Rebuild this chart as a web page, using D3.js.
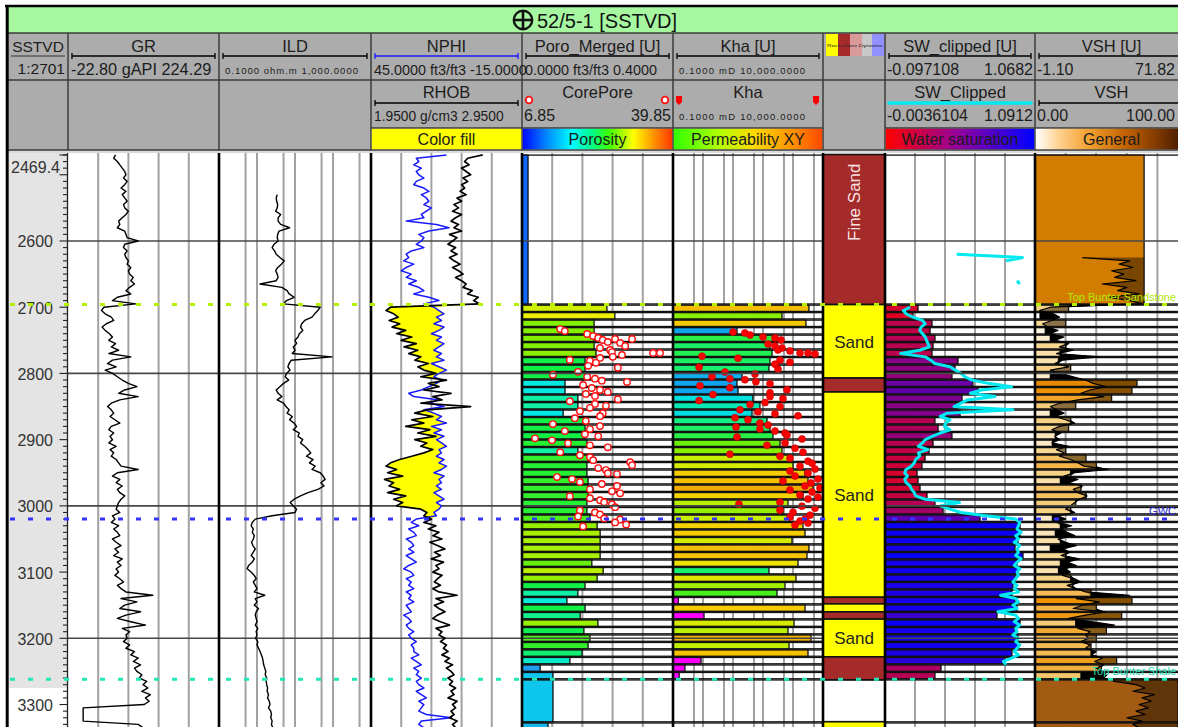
<!DOCTYPE html>
<html>
<head>
<meta charset="utf-8">
<script src="https://cdn.jsdelivr.net/npm/d3@7"></script>
<style>
  html, body { margin: 0; padding: 0; background: #fff; overflow: hidden; }
  svg { display: block; font-family: "Liberation Sans", Arial, sans-serif; }
</style>
</head>
<body>
<script>
// ---------------- Well 52/5-1 : log data (depth SSTVD, m) ----------------
const LOG_START = 2470;   // first sample depth of the continuous logs
const LOG_STEP = 5;       // sample spacing, m

// Gamma ray, gAPI
const grValues = [
  55, 52, 58, 62, 66, 70, 72, 68, 74, 70,
  64, 72, 66, 70, 74, 68, 70, 76, 72, 66,
  60, 62, 58, 70, 72, 74, 92, 70, 68, 74,
  70, 72, 76, 74, 80, 76, 78, 84, 80, 86,
  78, 72, 80, 58, 50, 88, 36, 32, 38, 48,
  52, 40, 33, 38, 45, 50, 44, 55, 48, 60,
  44, 80, 50, 42, 56, 38, 50, 58, 66, 76,
  90, 70, 60, 92, 62, 48, 42, 48, 52, 46,
  54, 62, 48, 44, 52, 46, 50, 44, 56, 46,
  52, 48, 56, 60, 64, 92, 58, 50, 62, 56,
  66, 58, 62, 70, 64, 60, 58, 56, 62, 50,
  54, 48, 60, 52, 58, 62, 50, 56, 64, 54,
  60, 52, 66, 58, 64, 56, 60, 54, 62, 68,
  58, 64, 72, 116, 64, 90, 70, 62, 96, 72,
  58, 80, 104, 66, 78, 72, 74, 68, 78, 72,
  86, 80, 92, 84, 96, 86, 90, 98, 94, 106,
  100, 108, 98, 112, 104, 110, 102, 2, 2, 2,
  2, 2, 92, 100
];

// Deep induction resistivity, ohm.m
const ildValues = [
  null, null, null, null, null, null, null, null, null, null,
  null, null, 3.4, 3.2, 3.3, 3.5, 3.4, 3.1, 4.2, 3.6,
  3.6, 4.2, 7.2, 3.8, 3.5, 3.4, 3.6, 2.8, 2.5, 2.9,
  3.2, 4.0, 5.2, 4.4, 3.5, 3.1, 3.4, 3.6, 3.2, 1.2,
  4.5, 6.2, 7.0, 9.5, 6.0, 5.0, 46, 40, 33, 28,
  18, 15, 14, 16, 13, 12, 10, 11, 9, 10,
  8.5, 94, 8, 7.0, 6.5, 7.4, 6.0, 5.5, 6.8, 5.0,
  4.0, 3.2, 3.6, 4.5, 3.4, 5.0, 5.8, 7.0, 6.2, 8.5,
  7.2, 9.5, 11, 9.0, 13, 12, 16, 14, 18, 22,
  26, 20, 30, 24, 34, 28, 46, 55, 62, 48,
  58, 40, 22, 14, 9.5, 7.5, 9.0, 11, 10, 2.5,
  0.9, 0.75, 0.7, 0.8, 0.75, 0.85, 0.8, 0.72, 0.78, 0.9,
  0.8, 0.7, 0.85, 0.75, 0.6, 0.55, 0.7, 0.85, 0.95, 0.8,
  0.9, 1.0, 0.85, 1.6, 0.9, 1.0, 0.85, 1.1, 0.95, 0.9,
  0.95, 1.0, 0.9, 1.05, 0.95, 1.0, 0.92, 1.05, 1.0, 1.1,
  1.2, 1.3, 1.4, 1.45, 1.5, 1.6, 1.7, 1.65, 1.8, 1.75,
  1.8, 1.9, 1.85, 2.0, 1.9, 2.1, 2.2, 2.0, 2.3, 2.4,
  2.3, 2.5, 2.4, 2.6
];

// Neutron porosity, p.u.
const nphiValues = [
  15, 27, 26, 28, 25, 27, 26, 24, 27, 28,
  24, 22, 25, 23, 22, 24, 21, 23, 25, 24,
  31, 19, 14, 22, 26, 24, 25, 27, 24, 29,
  31, 30, 32, 28, 31, 33, 29, 31, 27, 30,
  26, 24, 28, 22, 18, 24, 20, 18, 16, 19,
  17, 20, 16, 18, 21, 17, 19, 16, 18, 20,
  17, 19, 16, 21, 18, 15, 18, 20, 17, 19,
  22, 25, 30, 28, 18, 22, 16, 24, 20, 17,
  19, 15, 21, 17, 20, 16, 19, 17, 15, 18,
  17, 19, 16, 18, 15, 17, 20, 16, 18, 17,
  19, 17, 20, 18, 16, 19, 17, 18, 20, 19,
  27, 29, 26, 30, 28, 27, 31, 29, 28, 30,
  28, 31, 29, 27, 30, 32, 29, 28, 31, 29,
  30, 28, 31, 29, 30, 28, 31, 30, 29, 32,
  30, 29, 31, 30, 28, 30, 29, 27, 29, 28,
  28, 26, 29, 27, 25, 28, 26, 27, 25, 27,
  26, 24, 27, 25, 23, 26, 24, 25, 26, 23,
  13, 25, 26, 24
];

// Bulk density, g/cm3
const rhobValues = [
  2.69, 2.59, 2.57, 2.60, 2.55, 2.58, 2.61, 2.56, 2.59, 2.55,
  2.57, 2.54, 2.58, 2.52, 2.55, 2.50, 2.53, 2.49, 2.55, 2.51,
  2.48, 2.53, 2.50, 2.55, 2.47, 2.52, 2.49, 2.46, 2.51, 2.48,
  2.52, 2.47, 2.50, 2.54, 2.49, 2.53, 2.56, 2.51, 2.55, 2.58,
  2.56, 2.62, 2.59, 2.66, 2.63, 2.67, 2.08, 2.05, 2.10, 2.13,
  2.07, 2.14, 2.09, 2.18, 2.12, 2.22, 2.15, 2.25, 2.17, 2.26,
  2.20, 2.28, 2.24, 2.33, 2.26, 2.30, 2.38, 2.28, 2.45, 2.33,
  2.40, 2.30, 2.48, 2.36, 2.42, 2.28, 2.61, 2.32, 2.24, 2.36,
  2.22, 2.30, 2.18, 2.34, 2.26, 2.38, 2.24, 2.32, 2.28, 2.36,
  2.30, 2.22, 2.14, 2.08, 2.05, 2.12, 2.06, 2.16, 2.04, 2.10,
  2.07, 2.14, 2.06, 2.18, 2.10, 2.16, 2.12, 2.28, 2.32, 2.30,
  2.35, 2.30, 2.38, 2.33, 2.40, 2.36, 2.42, 2.34, 2.39, 2.44,
  2.37, 2.41, 2.35, 2.43, 2.38, 2.40, 2.36, 2.42, 2.39, 2.37,
  2.41, 2.36, 2.40, 2.52, 2.38, 2.43, 2.37, 2.40, 2.44, 2.39,
  2.36, 2.41, 2.47, 2.38, 2.42, 2.40, 2.44, 2.41, 2.45, 2.43,
  2.46, 2.42, 2.47, 2.44, 2.49, 2.45, 2.48, 2.50, 2.46, 2.49,
  2.47, 2.51, 2.48, 2.50, 2.46, 2.52, 2.49, 2.51, 2.48, 2.50,
  2.47, 2.52, 2.49, 2.51
];

// Clipped water saturation curve, v/v
const swCurveValues = [
  null, null, null, null, null, null, null, null, null, null,
  null, null, null, null, null, null, null, null, null, null,
  null, null, null, null, null, null, null, null, null, null,
  0.52, 1.0, 0.88, null, null, null, null, null, 0.96, 0.98,
  null, null, null, null, null, null, 0.18, 0.13, 0.15, 0.20,
  0.27, 0.29, 0.26, 0.25, 0.27, 0.29, 0.30, 0.31, 0.32, 0.25,
  0.11, 0.29, 0.33, 0.36, 0.47, 0.51, 0.55, 0.58, 0.63, 0.75,
  0.92, 0.70, 0.62, 0.80, 0.60, 0.55, 0.50, 0.93, 0.45, 0.40,
  0.47, 0.44, 0.43, 0.47, 0.40, 0.34, 0.29, 0.27, 0.24, 0.31,
  0.24, 0.25, 0.22, 0.21, 0.19, 0.15, 0.14, 0.16, 0.14, 0.15,
  0.18, 0.19, 0.21, 0.22, 0.29, 0.54, 0.40, 0.47, 0.55, 0.73,
  0.95, 0.98, 0.97, 0.96, 0.99, 0.95, 0.97, 0.94, 0.98, 0.96,
  0.97, 0.95, 0.99, 0.96, 0.94, 0.98, 0.96, 0.97, 0.95, 0.93,
  0.96, 0.94, 0.97, 0.84, 0.95, 0.97, 0.93, 0.96, 0.82, 0.95,
  0.97, 0.94, 0.98, 0.95, 0.96, 0.93, 0.97, 0.95, 0.98, 0.96,
  0.94, 0.97, 0.92, 0.86, 0.88, null, null, null, null, null,
  null, null, null, null, null, null, null, null, null, null,
  null, null, null, null
];

// Shale volume curve, %
const vshCurveValues = [
  null, null, null, null, null, null, null, null, null, null,
  null, null, null, null, null, null, null, null, null, null,
  null, null, null, null, null, null, null, null, null, null,
  null, 31, 62, 55, 64, 50, 58, 52, 66, 44,
  60, 54, 68, 48, 62, 70, 10, 3, 12, 16,
  11, 5, 8, 15, 10, 19, 13, 22, 16, 25,
  14, 42, 18, 13, 22, 10, 17, 25, 33, 38,
  46, 36, 30, 45, 28, 16, 10, 14, 19, 13,
  20, 26, 16, 11, 17, 13, 16, 11, 22, 14,
  19, 16, 23, 28, 32, 48, 26, 19, 28, 22,
  31, 25, 28, 34, 29, 26, 23, 20, 26, 15,
  20, 14, 24, 17, 21, 26, 15, 20, 27, 18,
  23, 17, 29, 21, 27, 20, 23, 18, 26, 30,
  21, 27, 33, 62, 27, 42, 31, 25, 46, 33,
  22, 38, 52, 28, 36, 33, 35, 30, 36, 33,
  40, 37, 44, 39, 45, 40, 44, 47, 45, 52,
  66, 72, 64, 78, 70, 76, 68, 74, 66, 72,
  60, 70, 64, 68
];

// ---------------- zonal (interval) results ----------------
const zoneBounds = [
  2469.4,
  2696.0, 2707.3, 2718.6, 2730.0, 2741.3, 2752.6, 2763.9, 2775.2, 2786.6, 2797.9,
  2809.2, 2820.5, 2831.8, 2843.2, 2854.5, 2865.8, 2877.1, 2888.4, 2899.8, 2911.1,
  2922.4, 2933.7, 2945.0, 2956.4, 2967.7, 2979.0, 2990.3, 3001.6, 3013.0, 3024.3,
  3035.6, 3046.9, 3058.2, 3069.6, 3080.9, 3092.2, 3103.5, 3114.8, 3126.2, 3137.5,
  3148.8, 3160.1, 3171.4, 3182.8, 3194.1, 3205.4, 3216.7, 3228.0, 3239.4, 3250.7,
  3262.0, 3327.0, 3360.0
];

// Poro_Merged [U], ft3/ft3
const poroZone = [
  0.016,
  0.225, 0.246, 0.191, 0.191, 0.191, 0.191, 0.196, 0.167, 0.167, 0.167,
  0.114, 0.114, 0.148, 0.148, 0.109, 0.167, 0.167, 0.167, 0.172, 0.148,
  0.175, 0.172, 0.172, 0.175, 0.175, 0.175, 0.172, 0.172, 0.180, 0.199,
  0.207, 0.207, 0.207, 0.207, 0.185, 0.215, 0.199, 0.167, 0.148, 0.119,
  0.167, 0.154, 0.201, 0.164, 0.180, 0.175, 0.159, 0.127, 0.048, 0.082,
  0.082, 0.069
];

// Kha [U], mD
const khaZone = [
  null,
  3400, 430, 2700, 13.6, 215, 171, 200, 171, 158, 20,
  13.6, 14.7, 46, 79, 43, 136, 171, 215, 369, 430,
  794, 1000, 2512, 3162, 4640, 2154, 681, 464, 794, 2154,
  2512, 926, 3400, 2930, 1468, 158, 1259, 541, 293, 0.15,
  2512, 1.08, 1080, 681, 3981, 736, 3162, 0.86, 0.25, 0.16,
  null, null
];

// SW_clipped [U], v/v
const swZone = [
  null,
  0.159, 0.12, 0.268, 0.253, 0.291, 0.276, 0.268, 0.47, 0.447, 0.423,
  0.586, 0.625, 0.501, 0.462, 0.486, 0.291, 0.315, 0.423, 0.276, 0.245,
  0.214, 0.19, 0.152, 0.159, 0.175, 0.229, 0.291, 0.354, 0.641, 0.952,
  0.952, 0.936, 0.913, 0.975, 0.928, 0.936, 0.913, 0.897, 0.889, 0.913,
  0.928, 0.773, 0.952, 0.913, 0.936, 0.936, 0.889, 0.835, 0.338, 0.291,
  null, null
];

// VSH [U], %
const vshZone = [
  50.9,
  14.9, 1.3, 13.5, 3.8, 6.2, 13.5, 11.0, 10.1, 15.9, 6.2,
  47.5, 45.1, 35.4, 18.3, 6.2, 15.9, 14.9, 8.6, 7.2, 13.5,
  23.2, 28.1, 15.9, 11.0, 20.8, 23.2, 18.3, 15.9, 7.2, 11.0,
  8.6, 11.0, 6.2, 13.5, 11.0, 10.1, 15.9, 16.9, 25.6, 45.1,
  28.1, 40.2, 18.3, 32.9, 28.1, 25.6, 25.6, 37.8, 30.5, 20.8,
  67.0, 67.0
];

// ---------------- core measurements [depth, value] ----------------
const corePore = [
  [2733, 15.2], [2736, 16.2], [2740.5, 21.1], [2743.5, 22.4], [2746.5, 23.5],
  [2749.5, 24.5], [2752.5, 25.6], [2748, 27.2], [2754, 28.3], [2758.6, 29.4],
  [2748, 30.9], [2769, 35.5], [2769, 37.0], [2761.6, 23.9], [2764.6, 26.1],
  [2767.7, 26.5], [2772, 28.7], [2775, 26.7], [2776.6, 23.9], [2779.6, 17.3],
  [2781, 21.7], [2784, 23.0], [2788.6, 21.3], [2791.6, 27.8], [2797.6, 19.1],
  [2802, 13.6], [2805, 21.1], [2808, 22.8], [2811, 24.3], [2813, 29.8],
  [2817.5, 20.2], [2822, 22.1], [2825, 23.9], [2828, 25.6], [2831, 20.8],
  [2834, 22.8], [2839, 27.8], [2842, 17.3], [2846, 22.8], [2849, 25.2],
  [2852, 21.7], [2857, 19.5], [2860, 24.5], [2864.6, 23.9], [2867.6, 18.4],
  [2872, 20.8], [2876.5, 13.6], [2879.5, 23.9], [2884, 21.7], [2887, 16.2],
  [2892, 20.6], [2895, 23.5], [2898, 9.7], [2901, 13.4], [2905.6, 16.9],
  [2908.6, 21.7], [2911.6, 25.6], [2919, 15.2], [2923.6, 19.5], [2926.6, 21.7],
  [2931, 22.4], [2934, 30.5], [2938.6, 30.9], [2943, 23.5], [2946, 25.2],
  [2950.6, 25.6], [2952, 27.6], [2956.6, 14.5], [2959.6, 17.8], [2964, 19.5],
  [2967, 24.3], [2970, 27.6], [2975, 21.7], [2978, 26.5], [2981, 28.3],
  [2985.5, 17.3], [2988.5, 21.7], [2991.5, 23.9], [2994.5, 24.8], [2997.5, 26.5],
  [3002, 27.2], [3007, 19.5], [3010, 22.8], [3013, 23.9], [3016, 19.1],
  [3019, 24.8], [3020.5, 28.3], [3025, 27.2], [3028, 29.6], [3031, 20.2]
];

const coreKha = [
  [2737.5, 10], [2739, 25], [2742, 37], [2745, 100], [2746.5, 251], [2749.5, 398],
  [2755.5, 147], [2758.6, 251], [2761.6, 430], [2764.6, 316], [2766, 794], [2769, 1711],
  [2770.5, 5412], [2769, 3162], [2774, 0.93], [2777, 14.7], [2780, 369], [2783, 794],
  [2786, 251], [2790.5, 0.74], [2793.5, 316], [2798, 5.4], [2801, 54], [2805, 2.0],
  [2808, 7.9], [2809.5, 25], [2812.5, 58], [2815.5, 171], [2818.5, 0.79], [2821.6, 7.9],
  [2824.6, 631], [2829, 171], [2832, 2.15], [2835, 171], [2838, 464], [2841, 0.74],
  [2844, 117], [2847, 37], [2850, 369], [2855, 17.1], [2858, 68], [2861, 251],
  [2864, 1468], [2867, 11.7], [2870, 31.6], [2875, 79], [2878, 147], [2881, 12.6],
  [2884, 79], [2887, 251], [2890, 541], [2893, 631], [2896, 13.6], [2899, 1995],
  [2905, 541], [2908.6, 136], [2913, 1166], [2919, 2154], [2922, 7.9], [2925, 369],
  [2928, 794], [2932.5, 3162], [2935.5, 4299], [2940, 1711], [2944.5, 5412], [2947.5, 794],
  [2950.6, 3162], [2955, 1166], [2959.6, 6813], [2962.5, 464], [2965.5, 3981], [2970, 2512],
  [2973, 7943], [2976, 794], [2979, 4299], [2983.6, 1711], [2986.6, 6813], [2989.6, 3162],
  [2994.4, 369], [2997.5, 15.8], [3000.5, 1995], [3003.5, 5412], [3006.5, 369], [3009.5, 1000],
  [3014, 3687], [3017, 794], [3020, 2512], [3023, 1711], [3026, 3162], [3029, 1166]
];

// ---------------- lithology column ----------------
const lithTops  = [2469.4, 2696, 2807, 2828, 3138, 3148, 3160, 3171, 3228, 3263, 3326];
const lithBases = [2696, 2807, 2828, 3138, 3148, 3160, 3171, 3228, 3263, 3326, 3360];
const lithNames = ["Fine Sand", "Sand", "Fine Sand", "Sand", "Fine Sand", "Sand",
                   "Fine Sand", "Sand", "Fine Sand", "", "Sand"];

// ---------------- formation tops / contacts ----------------
const topNames  = ["Top Bunter Sandstone", "GWC", "Top Bunter Shale"];
const topDepths = [2696, 3020, 3262];

// ---------------- depth scale labels ----------------
const depthTopLabel = "2469.4";
const depthLabels = [2600, 2700, 2800, 2900, 3000, 3100, 3200, 3300];

// ======================= drawing =======================
const W = 1178, H = 727;
const DATA_TOP = 153, DATA_BOTTOM = 727;

const svg = d3.select("body").append("svg").attr("width", W).attr("height", H);
const defs = svg.append("defs");

const y = d3.scaleLinear().domain([2469.4, 3335]).range([154.5, 727.7]);

const TR = {
  depth: [9, 68], gr: [68, 219], ild: [219, 371], nphi: [371, 522],
  poro: [522, 673], kha: [673, 823], lith: [823, 885], sw: [885, 1035], vsh: [1035, 1188]
};

const grX   = d3.scaleLinear().domain([-22.80, 224.29]).range(TR.gr);
const ildX  = d3.scaleLog().domain([0.1, 1000]).range(TR.ild);
const nphiX = d3.scaleLinear().domain([45, -15]).range(TR.nphi);
const rhobX = d3.scaleLinear().domain([1.95, 2.95]).range(TR.nphi);
const poroX = d3.scaleLinear().domain([0, 0.4]).range(TR.poro);
const coreX = d3.scaleLinear().domain([6.85, 39.85]).range(TR.poro);
const khaX  = d3.scaleLog().domain([0.1, 10000]).range(TR.kha);
const swX   = d3.scaleLinear().domain([-0.097108, 1.0682]).range(TR.sw);
const swcX  = d3.scaleLinear().domain([-0.0036104, 1.0912]).range(TR.sw);
const vshUX = d3.scaleLinear().domain([-1.10, 71.82]).range(TR.vsh);
const vshX  = d3.scaleLinear().domain([0, 100]).range(TR.vsh);

// colour maps
const poroColor = d3.scaleLinear()
  .domain([0, 0.05, 0.11, 0.15, 0.168, 0.19, 0.225, 0.25, 0.3, 0.4])
  .range(["#0a4cff", "#20a0f0", "#00e8e8", "#10f0a0", "#10f040", "#80f000", "#d0f000", "#f0f000", "#ffa000", "#ff2000"])
  .clamp(true);
const khaLogColor = d3.scaleLinear()
  .domain([-1, 0.1, 0.6, 1.1, 1.4, 1.65, 2.1, 2.3, 2.5, 2.65, 2.9, 3.2, 3.45, 3.7])
  .range(["#ff00ff", "#ff00ff", "#2070ff", "#10a0f0", "#10b8f0", "#00e0e0", "#10f090", "#20f050",
          "#50f010", "#90f000", "#c8f000", "#f0e000", "#f8c800", "#f0a800"])
  .clamp(true);
const khaColor = v => khaLogColor(Math.log10(v));
const swColor = d3.scaleLinear().domain([0, 0.5, 1]).range(["#ff0000", "#800090", "#0000ff"]).clamp(true);
const vshColor = d3.scaleLinear().domain([0, 15, 28, 45, 52, 67, 72])
  .range(["#ffffff", "#f8d488", "#f4b448", "#f09000", "#cc7a00", "#a35a12", "#6a3000"]).clamp(true);
const lithColor = { "Fine Sand": "#a52a2a", "Sand": "#ffff00" };
const topColors = ["#b4f000", "#3434ff", "#22e6b4"];
const topLabelColors = ["#b0ea00", "#2a2ad8", "#20dcb0"];

// helpers
const samples = vals => vals.map((v, i) => ({ d: LOG_START + i * LOG_STEP, v }));
const zones = d3.range(zoneBounds.length - 1).map(i => ({ top: zoneBounds[i], bot: zoneBounds[i + 1] }));
function zoneAt(d) {
  for (let i = 0; i < zones.length; i++) if (d >= zones[i].top && d < zones[i].bot) return i;
  return -1;
}
function curveAt(vals, d) {
  const f = (d - LOG_START) / LOG_STEP, i = Math.floor(f);
  if (i < 0 || i + 1 >= vals.length) return null;
  const a = vals[i], b = vals[i + 1];
  if (a == null || b == null) return null;
  return a + (b - a) * (f - i);
}
function clipFor(name, x0, x1) {
  defs.append("clipPath").attr("id", "clip-" + name)
    .append("rect").attr("x", x0).attr("y", DATA_TOP).attr("width", x1 - x0).attr("height", DATA_BOTTOM - DATA_TOP);
  return "url(#clip-" + name + ")";
}

const data = svg.append("g");

// depth track background
data.append("rect").attr("x", TR.depth[0]).attr("y", DATA_TOP)
  .attr("width", TR.depth[1] - TR.depth[0]).attr("height", y(3275) - DATA_TOP).attr("fill", "#e4e4e4");

// ---- grids ----
const gridG = data.append("g");
function linearGrid(tr) {
  const [x0, x1] = tr;
  for (let i = 1; i < 5; i++) {
    const x = x0 + i * (x1 - x0) / 5;
    gridG.append("line").attr("x1", x).attr("x2", x).attr("y1", DATA_TOP).attr("y2", DATA_BOTTOM)
      .attr("stroke", "#a2a2a2").attr("stroke-width", 2);
  }
}
function logGrid(scale, lo, hi) {
  for (let d = lo; d < hi; d *= 10) {
    [d * 5, d * 10].forEach(v => {
      if (v >= hi * 0.999) return;
      const x = scale(v);
      gridG.append("line").attr("x1", x).attr("x2", x).attr("y1", DATA_TOP).attr("y2", DATA_BOTTOM)
        .attr("stroke", "#a2a2a2").attr("stroke-width", 2);
    });
  }
}
linearGrid(TR.gr); logGrid(ildX, 0.1, 1000); linearGrid(TR.nphi); linearGrid(TR.poro);
logGrid(khaX, 0.1, 10000); linearGrid(TR.sw); linearGrid(TR.vsh);

// ---- zone bars (porosity, permeability, saturation, shale volume) ----
function zoneTrack(name, vals, sx, colorFn, tr) {
  const g = data.append("g").attr("clip-path", clipFor(name, tr[0], tr[1]));
  zones.forEach((z, i) => {
    const yt = y(z.top), yb = y(z.bot);
    g.append("rect").attr("x", tr[0]).attr("y", yt + 0.6).attr("width", tr[1] - tr[0])
      .attr("height", Math.max(0, yb - yt - 1.2)).attr("fill", "none").attr("stroke", "#111").attr("stroke-width", 1.3);
  });
  zones.forEach((z, i) => {
    const v = vals[i];
    if (v == null) return;
    const yt = y(z.top), yb = y(z.bot);
    g.append("rect").attr("x", tr[0]).attr("y", yt + 0.6).attr("width", Math.max(0, sx(v) - tr[0]))
      .attr("height", Math.max(0, yb - yt - 1.2)).attr("fill", colorFn(v)).attr("stroke", "#111").attr("stroke-width", 1.3);
  });
  return g;
}
const poroG = zoneTrack("poro", poroZone, poroX, poroColor, TR.poro);
const khaG = zoneTrack("kha", khaZone, khaX, khaColor, TR.kha);
const swG = zoneTrack("sw", swZone, swX, swColor, TR.sw);
const vshG = zoneTrack("vsh", vshZone, vshUX, vshColor, TR.vsh);

// horizontal depth grid every 200 m
[TR.gr, TR.ild, TR.nphi, TR.poro, TR.kha, TR.sw, TR.vsh].forEach(tr => {
  [2600, 2800, 3000, 3200].forEach(d => {
    data.append("line").attr("x1", tr[0]).attr("x2", tr[1]).attr("y1", y(d)).attr("y2", y(d))
      .attr("stroke", "#474747").attr("stroke-width", 1.6);
  });
});

// ---- continuous curves ----
function curve(g, vals, sx, color, width) {
  g.append("path").datum(samples(vals))
    .attr("d", d3.line().defined(p => p.v != null).x(p => sx(p.v)).y(p => y(p.d)))
    .attr("fill", "none").attr("stroke", color).attr("stroke-width", width).attr("stroke-linejoin", "round");
}
const grG = data.append("g").attr("clip-path", clipFor("gr", TR.gr[0], TR.gr[1]));
curve(grG, grValues, grX, "#000", 1.4);
const ildG = data.append("g").attr("clip-path", clipFor("ild", TR.ild[0], TR.ild[1]));
curve(ildG, ildValues, ildX, "#000", 1.4);

// neutron-density with crossover fill
const ndG = data.append("g").attr("clip-path", clipFor("nd", TR.nphi[0], TR.nphi[1]));
const nd = nphiValues.map((n, i) => ({ d: LOG_START + i * LOG_STEP, n, r: rhobValues[i] }));
ndG.append("path").datum(nd)
  .attr("d", d3.area().defined(p => p.n != null && p.r != null).y(p => y(p.d))
    .x0(p => rhobX(p.r)).x1(p => Math.max(rhobX(p.r), nphiX(p.n))))
  .attr("fill", "#ffff00");
curve(ndG, nphiValues, nphiX, "#1a1aff", 1.5);
curve(ndG, rhobValues, rhobX, "#000", 1.7);

// core porosity and permeability
poroG.selectAll("circle.core").data(corePore).join("circle").attr("class", "core")
  .attr("cx", d => coreX(d[1])).attr("cy", d => y(d[0])).attr("r", 3.2)
  .attr("fill", "#fff").attr("stroke", "#ff1010").attr("stroke-width", 1.4);
khaG.selectAll("circle.core").data(coreKha).join("circle").attr("class", "core")
  .attr("cx", d => khaX(d[1])).attr("cy", d => y(d[0])).attr("r", 3.5)
  .attr("fill", "#ff0000").attr("stroke", "#c00000").attr("stroke-width", 0.6);

// saturation curve
curve(swG, swCurveValues, swcX, "#00e8f0", 3);

// shale volume curve, shaded against the zonal VSH value
const vshPts = [];
vshCurveValues.forEach((v, i) => {
  if (v == null) return;
  const d = LOG_START + i * LOG_STEP, zi = zoneAt(d);
  vshPts.push({ d, c: v, b: zi < 0 ? null : vshZone[zi], k: 2 });
});
zoneBounds.forEach((B, j) => {
  if (j === 0) return;
  const c = curveAt(vshCurveValues, B);
  if (c == null) return;
  vshPts.push({ d: B, c, b: vshZone[j - 1], k: -1 });
  if (j < vshZone.length) vshPts.push({ d: B, c, b: vshZone[j], k: 1 });
});
vshPts.sort((a, b) => a.d - b.d || a.k - b.k);
vshG.append("path").datum(vshPts)
  .attr("d", d3.area().defined(p => p.b != null).y(p => y(p.d))
    .x0(p => Math.min(vshUX(p.b), vshX(p.c))).x1(p => vshUX(p.b)))
  .attr("fill", "rgba(30,15,0,0.5)");
vshG.append("path").datum(vshPts)
  .attr("d", d3.area().defined(p => p.b != null).y(p => y(p.d))
    .x0(p => vshUX(p.b)).x1(p => Math.max(vshUX(p.b), vshX(p.c))))
  .attr("fill", "#000");
curve(vshG, vshCurveValues, vshX, "#000", 1.2);

// ---- lithology ----
const lithG = data.append("g").attr("clip-path", clipFor("lith", TR.lith[0], TR.lith[1]));
lithTops.forEach((t, i) => {
  const yt = y(t), yb = y(lithBases[i]);
  lithG.append("rect").attr("x", TR.lith[0]).attr("y", yt).attr("width", TR.lith[1] - TR.lith[0])
    .attr("height", yb - yt).attr("fill", lithColor[lithNames[i]] || "#fff")
    .attr("stroke", "#111").attr("stroke-width", 1.6);
});
lithTops.forEach((t, i) => {
  const name = lithNames[i];
  const yt = y(t), yb = y(lithBases[i]);
  if (!name || yb - yt < 30) return;
  const cx = (TR.lith[0] + TR.lith[1]) / 2;
  const dark = name === "Fine Sand";
  const txt = lithG.append("text").text(name).attr("font-size", 17)
    .attr("fill", dark ? "#f6e2e2" : "#222").attr("dominant-baseline", "central");
  const wText = txt.node().getComputedTextLength();
  if (wText > TR.lith[1] - TR.lith[0] - 6) {
    txt.attr("text-anchor", "end").attr("transform", `translate(${cx},${yt + 9}) rotate(-90)`);
  } else {
    txt.attr("text-anchor", "middle").attr("x", cx).attr("y", (yt + yb) / 2 + 1);
  }
});

// ---- track borders ----
[219, 371, 522, 673, 823, 885, 1035].forEach(x => {
  data.append("line").attr("x1", x).attr("x2", x).attr("y1", DATA_TOP).attr("y2", DATA_BOTTOM)
    .attr("stroke", "#000").attr("stroke-width", 2.6);
});

// ---- depth scale ----
const axG = data.append("g");
axG.append("line").attr("x1", 67.5).attr("x2", 67.5).attr("y1", DATA_TOP).attr("y2", DATA_BOTTOM)
  .attr("stroke", "#222").attr("stroke-width", 1.3);
d3.range(2470, 3335, 10).forEach(d => {
  const major = d % 100 === 0;
  axG.append("line").attr("x1", 67.5 - (major ? 8 : 4.5)).attr("x2", 67.5).attr("y1", y(d)).attr("y2", y(d))
    .attr("stroke", "#222").attr("stroke-width", 1.1);
});
axG.append("line").attr("x1", 59.5).attr("x2", 67.5).attr("y1", y(2469.4) + 0.5).attr("y2", y(2469.4) + 0.5)
  .attr("stroke", "#222").attr("stroke-width", 1.1);
axG.append("text").text(depthTopLabel).attr("x", 60).attr("y", 167).attr("text-anchor", "end")
  .attr("dominant-baseline", "central").attr("font-size", 16).attr("fill", "#333");
depthLabels.forEach(d => {
  axG.append("text").text(d).attr("x", 53).attr("y", y(d) + 1).attr("text-anchor", "end")
    .attr("dominant-baseline", "central").attr("font-size", 16).attr("fill", "#333");
});

// ---- formation tops ----
const topsG = data.append("g");
topDepths.forEach((d, i) => {
  topsG.append("line").attr("x1", 10).attr("x2", W).attr("y1", y(d)).attr("y2", y(d))
    .attr("stroke", topColors[i]).attr("stroke-width", 3).attr("stroke-dasharray", "5 13");
  topsG.append("text").text(topNames[i]).attr("x", 1176).attr("y", y(d) - 4)
    .attr("text-anchor", "end").attr("font-size", 11).attr("fill", topLabelColors[i]);
});

// ======================= header =======================
const hdr = svg.append("g");
hdr.append("rect").attr("x", 0).attr("y", 0).attr("width", W).attr("height", DATA_TOP).attr("fill", "#fff");
hdr.append("rect").attr("x", 8).attr("y", 7).attr("width", W - 8).attr("height", 26).attr("fill", "#a6f7a0");
hdr.append("rect").attr("x", 8).attr("y", 33).attr("width", W - 8).attr("height", 117).attr("fill", "#acacac");
hdr.append("rect").attr("x", 8).attr("y", 150).attr("width", W - 8).attr("height", 3).attr("fill", "#dadada");

// title
const titleG = hdr.append("g");
titleG.append("circle").attr("cx", 523).attr("cy", 20).attr("r", 9.2)
  .attr("fill", "none").attr("stroke", "#111").attr("stroke-width", 2.4);
titleG.append("line").attr("x1", 514).attr("x2", 532).attr("y1", 20).attr("y2", 20).attr("stroke", "#111").attr("stroke-width", 2.6);
titleG.append("line").attr("x1", 523).attr("x2", 523).attr("y1", 11).attr("y2", 29).attr("stroke", "#111").attr("stroke-width", 2.6);
titleG.append("text").text("52/5-1 [SSTVD]").attr("x", 537).attr("y", 27.5)
  .attr("font-size", 20).attr("fill", "#111");

// header grid lines
const HL = "#3c3c3c";
[33, 80, 150].forEach(yy => hdr.append("line").attr("x1", 8).attr("x2", W).attr("y1", yy).attr("y2", yy)
  .attr("stroke", HL).attr("stroke-width", 1.5));
[[371, 823], [885, W]].forEach(([a, b]) => hdr.append("line").attr("x1", a).attr("x2", b).attr("y1", 128).attr("y2", 128)
  .attr("stroke", HL).attr("stroke-width", 1.5));
[68, 219, 371, 522, 673, 823, 885, 1035].forEach(x => hdr.append("line").attr("x1", x).attr("x2", x)
  .attr("y1", 33).attr("y2", 150).attr("stroke", HL).attr("stroke-width", 1.5));

// depth column header
hdr.append("text").text("SSTVD").attr("x", 38).attr("y", 51.5).attr("text-anchor", "middle")
  .attr("font-size", 15.5).attr("fill", "#1c1c1c");
hdr.append("line").attr("x1", 11).attr("x2", 65).attr("y1", 56).attr("y2", 56).attr("stroke", "#333").attr("stroke-width", 1);
hdr.append("text").text("1:2701").attr("x", 65).attr("y", 74).attr("text-anchor", "end")
  .attr("font-size", 15.5).attr("fill", "#1c1c1c");

const hdrRow1 = [
  { x0: 68, x1: 219, name: "GR", text: "-22.80 gAPI 224.29", fs: 16.3, line: "#000" },
  { x0: 219, x1: 371, name: "ILD", small: "0.1000 ohm.m 1,000.0000", len: 133, line: "#000" },
  { x0: 371, x1: 522, name: "NPHI", text: "45.0000 ft3/ft3 -15.0000", fs: 14.4, line: "#1a1aff" },
  { x0: 522, x1: 673, name: "Poro_Merged [U]", text: "0.0000 ft3/ft3 0.4000", fs: 14.4, line: "#000" },
  { x0: 673, x1: 823, name: "Kha [U]", small: "0.1000 mD 10,000.0000", len: 126, line: "#000" },
  { x0: 885, x1: 1035, name: "SW_clipped [U]", min: "-0.097108", max: "1.0682", line: "#000" },
  { x0: 1035, x1: 1188, name: "VSH [U]", min: "-1.10", max: "71.82", line: "#000" }
];
const hdrRow2 = [
  { x0: 371, x1: 522, name: "RHOB", text: "1.9500 g/cm3 2.9500", fs: 13.8, line: "#000" },
  { x0: 522, x1: 673, name: "CorePore", min: "6.85", max: "39.85", marker: "ring" },
  { x0: 673, x1: 823, name: "Kha", small: "0.1000 mD 10,000.0000", len: 126, marker: "shield" },
  { x0: 885, x1: 1035, name: "SW_Clipped", min: "-0.0036104", max: "1.0912", line: "#00e8f0", lw: 3.5 },
  { x0: 1035, x1: 1188, name: "VSH", min: "0.00", max: "100.00", line: "#000" }
];
const hdrRow3 = [
  { x0: 371, x1: 522, label: "Color fill", stops: [[0, "#ffff00"], [1, "#ffff00"]] },
  { x0: 522, x1: 673, label: "Porosity",
    stops: [[0, "#0008ff"], [0.16, "#0088ff"], [0.33, "#00ffff"], [0.47, "#00ff80"], [0.58, "#40ff00"],
            [0.74, "#ffff00"], [0.88, "#ff9000"], [1, "#ff3800"]] },
  { x0: 673, x1: 823, label: "Permeability XY",
    stops: [[0, "#30ff00"], [0.3, "#b0ff00"], [0.55, "#ffd800"], [0.8, "#ff9000"], [1, "#ff4800"]] },
  { x0: 885, x1: 1035, label: "Water saturation",
    stops: [[0, "#ff0000"], [0.5, "#9000a0"], [1, "#0000ff"]] },
  { x0: 1035, x1: 1188, label: "General",
    stops: [[0, "#ffffff"], [0.15, "#ffd290"], [0.35, "#f2a030"], [0.6, "#c06000"], [0.85, "#703000"], [1, "#3a1400"]] }
];

function headerCell(c, yName, yLine, yVal) {
  const cx = (c.x0 + c.x1) / 2;
  hdr.append("text").text(c.name).attr("x", cx).attr("y", yName).attr("text-anchor", "middle")
    .attr("font-size", 16.5).attr("fill", "#1c1c1c");
  if (c.line) {
    const lw = c.lw || 1.3;
    hdr.append("line").attr("x1", c.x0 + 4).attr("x2", c.x1 - 4).attr("y1", yLine).attr("y2", yLine)
      .attr("stroke", c.line).attr("stroke-width", lw).attr("stroke-linecap", lw > 2 ? "round" : "butt");
    if (lw <= 2) {
      [c.x0 + 4, c.x1 - 4].forEach(x => hdr.append("line").attr("x1", x).attr("x2", x)
        .attr("y1", yLine - 3).attr("y2", yLine + 3).attr("stroke", c.line).attr("stroke-width", 1.3));
    }
  }
  if (c.marker === "ring") {
    [c.x0 + 7, c.x1 - 8].forEach(x => hdr.append("circle").attr("cx", x).attr("cy", yLine - 3).attr("r", 3.3)
      .attr("fill", "#fff").attr("stroke", "#ff1010").attr("stroke-width", 1.8));
  }
  if (c.marker === "shield") {
    [c.x0 + 6, c.x1 - 7].forEach(x => hdr.append("path")
      .attr("d", `M${x - 3},${yLine - 7} L${x + 3},${yLine - 7} L${x + 3},${yLine - 1} L${x},${yLine + 2} L${x - 3},${yLine - 1} Z`)
      .attr("fill", "#ff0000"));
  }
  if (c.text) {
    hdr.append("text").text(c.text).attr("x", c.x0 + 3).attr("y", yVal).attr("font-size", c.fs).attr("fill", "#1c1c1c");
  }
  if (c.small) {
    hdr.append("text").text(c.small).attr("x", c.x0 + 6).attr("y", yVal - 1).attr("font-size", 9.5)
      .attr("textLength", c.len).attr("lengthAdjust", "spacing").attr("fill", "#1c1c1c");
  }
  if (c.min != null) {
    hdr.append("text").text(c.min).attr("x", c.x0 + 2).attr("y", yVal).attr("font-size", 16).attr("fill", "#1c1c1c");
    // right-hand value stays inside the visible page
    hdr.append("text").text(c.max).attr("x", Math.min(c.x1 - 2, W - 3)).attr("y", yVal).attr("text-anchor", "end")
      .attr("font-size", 16).attr("fill", "#1c1c1c");
  }
}
hdrRow1.forEach(c => headerCell(c, 51.8, 56, 74.5));
hdrRow2.forEach(c => headerCell(c, 98, 103, 120.5));

hdrRow3.forEach((c, i) => {
  const id = "grad" + i;
  const lg = defs.append("linearGradient").attr("id", id).attr("x1", "0%").attr("x2", "100%");
  c.stops.forEach(s => lg.append("stop").attr("offset", s[0]).attr("stop-color", s[1]));
  hdr.append("rect").attr("x", c.x0 + 0.8).attr("y", 128.8).attr("width", c.x1 - c.x0 - 1.6).attr("height", 20.4)
    .attr("fill", `url(#${id})`);
  hdr.append("text").text(c.label).attr("x", (c.x0 + c.x1) / 2).attr("y", 145).attr("text-anchor", "middle")
    .attr("font-size", 16).attr("fill", "#1c1c1c");
});

// lithology legend strip
const legendCols = [["#ffff00", 826, 838], ["#a52a2a", 838, 850], ["#d99a9a", 850, 862], ["#c8c8c8", 862, 872], ["#9090ff", 872, 884]];
legendCols.forEach(([col, a, b]) => hdr.append("rect").attr("x", a).attr("y", 34).attr("width", b - a).attr("height", 22).attr("fill", col));
hdr.append("text").text("Rock class  Dynamic").attr("x", 827).attr("y", 46.5).attr("font-size", 4)
  .attr("textLength", 56).attr("lengthAdjust", "spacingAndGlyphs").attr("fill", "#222");

// outer frame
svg.append("line").attr("x1", 5).attr("x2", W).attr("y1", 6).attr("y2", 6).attr("stroke", "#000").attr("stroke-width", 2.6);
svg.append("line").attr("x1", 7.2).attr("x2", 7.2).attr("y1", 5).attr("y2", H).attr("stroke", "#000").attr("stroke-width", 3);
</script>
</body>
</html>
